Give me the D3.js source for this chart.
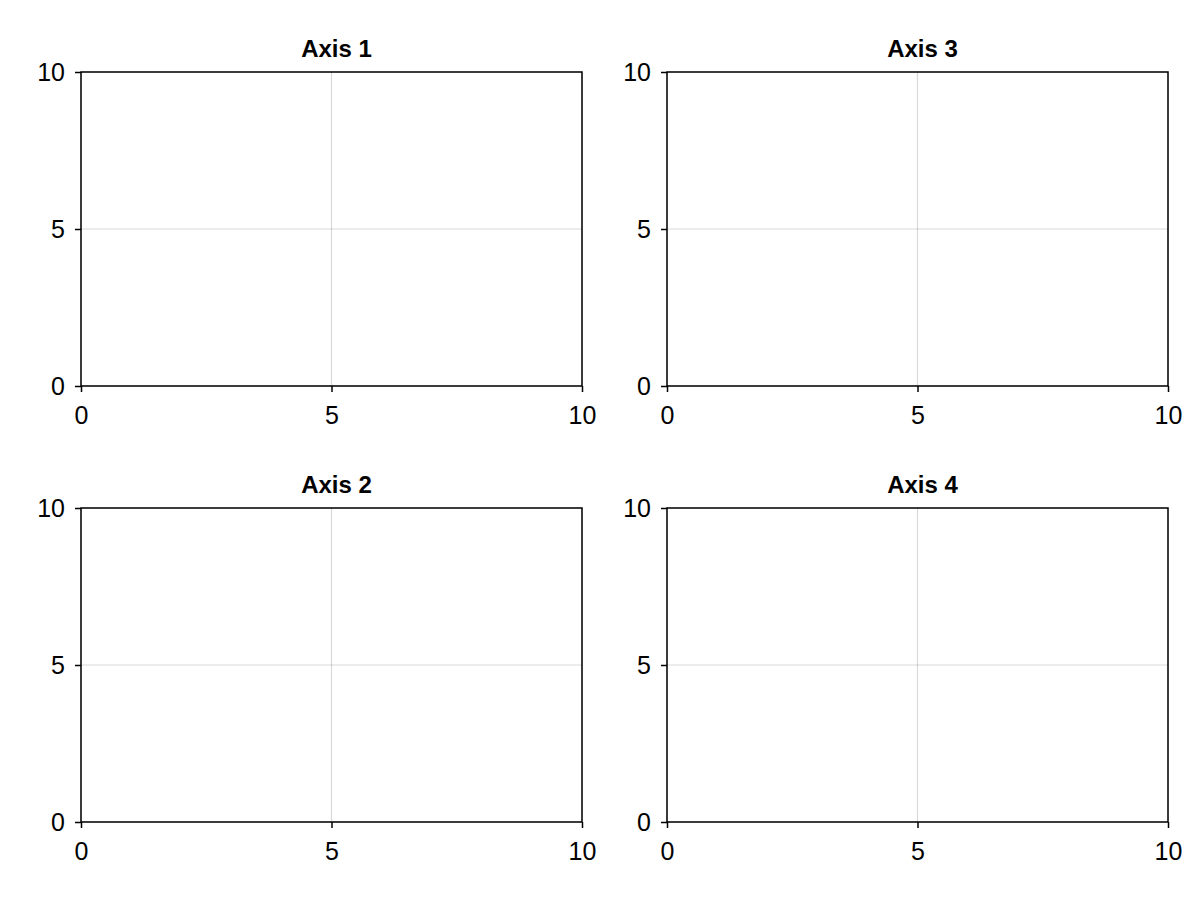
<!DOCTYPE html>
<html><head><meta charset="utf-8">
<script src="https://cdn.jsdelivr.net/npm/d3@7"></script>
<style>body{margin:0;background:#fff}</style></head>
<body><svg id="c" width="1200" height="900"></svg>
<script>
const titles = ["Axis 1","Axis 3","Axis 2","Axis 4"];
const xDomain = [0,10];
const yDomain = [0,10];
const tickValues = [0,5,10];
const panels = [
  {x:81,y:72},{x:667,y:72},{x:81,y:508},{x:667,y:508}
];
const W=501,H=314;
const svg=d3.select("#c");
const font="'Liberation Sans', Arial, sans-serif";
panels.forEach((p,i)=>{
  const g=svg.append("g").attr("transform",`translate(${p.x},${p.y})`);
  const x=d3.scaleLinear().domain(xDomain).range([0,W]);
  const y=d3.scaleLinear().domain(yDomain).range([H,0]);
  g.selectAll(".gx").data(tickValues).enter().append("line")
    .attr("x1",d=>x(d)).attr("x2",d=>x(d)).attr("y1",0).attr("y2",H)
    .attr("stroke","#000").attr("stroke-opacity",0.15).attr("stroke-width",1.2);
  g.selectAll(".gy").data(tickValues).enter().append("line")
    .attr("y1",d=>y(d)).attr("y2",d=>y(d)).attr("x1",0).attr("x2",W)
    .attr("stroke","#000").attr("stroke-opacity",0.15).attr("stroke-width",1.2);
  const ax=g.append("g").attr("transform",`translate(0,${H})`)
    .call(d3.axisBottom(x).tickValues(tickValues).tickSize(6).tickPadding(14));
  const ay=g.append("g")
    .call(d3.axisLeft(y).tickValues(tickValues).tickSize(6).tickPadding(10));
  [ax,ay].forEach(a=>{
    a.select(".domain").remove();
    a.selectAll("line").attr("stroke","#000").attr("stroke-width",1.5);
    a.selectAll("text").attr("font-family",font).attr("font-size",25).attr("fill","#000");
  });
  ay.selectAll("text").attr("dy","0.35em");
  g.append("rect").attr("width",W).attr("height",H).attr("fill","none")
    .attr("stroke","#000").attr("stroke-width",1.5);
  g.append("text").attr("x",W/2+5).attr("y",-15).attr("text-anchor","middle")
    .attr("font-family",font).attr("font-weight","bold").attr("font-size",24)
    .text(titles[i]);
});
</script></body></html>
